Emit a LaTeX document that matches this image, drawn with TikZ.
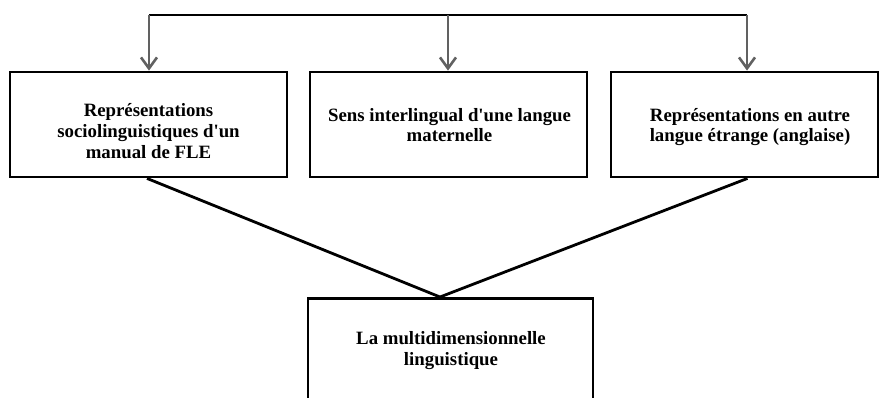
\documentclass[tikz,border=0pt]{standalone}
\usepackage{fontspec}
\setmainfont{Liberation Serif}[Ligatures=TeXOff]
\usetikzlibrary{arrows.meta}
\begin{document}
\begin{tikzpicture}[x=1pt,y=-1pt,
  boxstyle/.style={draw=black, line width=2.8pt, inner sep=0pt},
  txt/.style={font=\bfseries\fontsize{18.8}{20.6}\selectfont, align=center, inner sep=0pt, anchor=base},
  feed/.style={draw=black!62, line width=2.8pt, -{Straight Barb[length=11pt,width=16pt,line width=2.6pt]}},
  topline/.style={draw=black, line width=2.2pt},
  joinline/.style={draw=black, line width=2.8pt}]
\useasboundingbox (0,0) rectangle (880,397);
% boxes
\node[boxstyle, minimum width=277pt, minimum height=105pt] (b1) at (148.5,124.5) {};
\node[boxstyle, minimum width=277pt, minimum height=105pt] (b2) at (448.5,124.5) {};
\node[boxstyle, minimum width=267pt, minimum height=105pt] (b3) at (744.5,124.5) {};
\node[boxstyle, minimum width=285pt, minimum height=130pt, anchor=north] (b4) at (450.5,297) {};
% texts (anchor = baseline of last line)
\node[txt] (t1) at (148.5,158) {Représentations\\sociolinguistiques d'un\\manual de FLE};
\node[txt] (t2) at (449.5,141.7) {Sens interlingual d'une langue\\maternelle};
\node[txt] (t3) at (750,141.7) {Représentations en autre\\langue étrange (anglaise)};
\node[txt] (t4) at (451,365) {La multidimensionnelle\\linguistique};
% top distribution line
\coordinate (c1) at (149,15);
\coordinate (c2) at (448,15);
\coordinate (c3) at (747,15);
\draw[topline] (c1) -- (c3);
\draw[feed] (c1) -- (c1 |- b1.north);
\draw[feed] (c2) -- (c2 |- b2.north);
\draw[feed] (c3) -- (c3 |- b3.north);
% convergence lines
\coordinate (apex) at (440,297);
\draw[joinline] ([xshift=-1.5pt]b1.south) -- (apex) -- ([xshift=3pt]b3.south);
\end{tikzpicture}
\end{document}
